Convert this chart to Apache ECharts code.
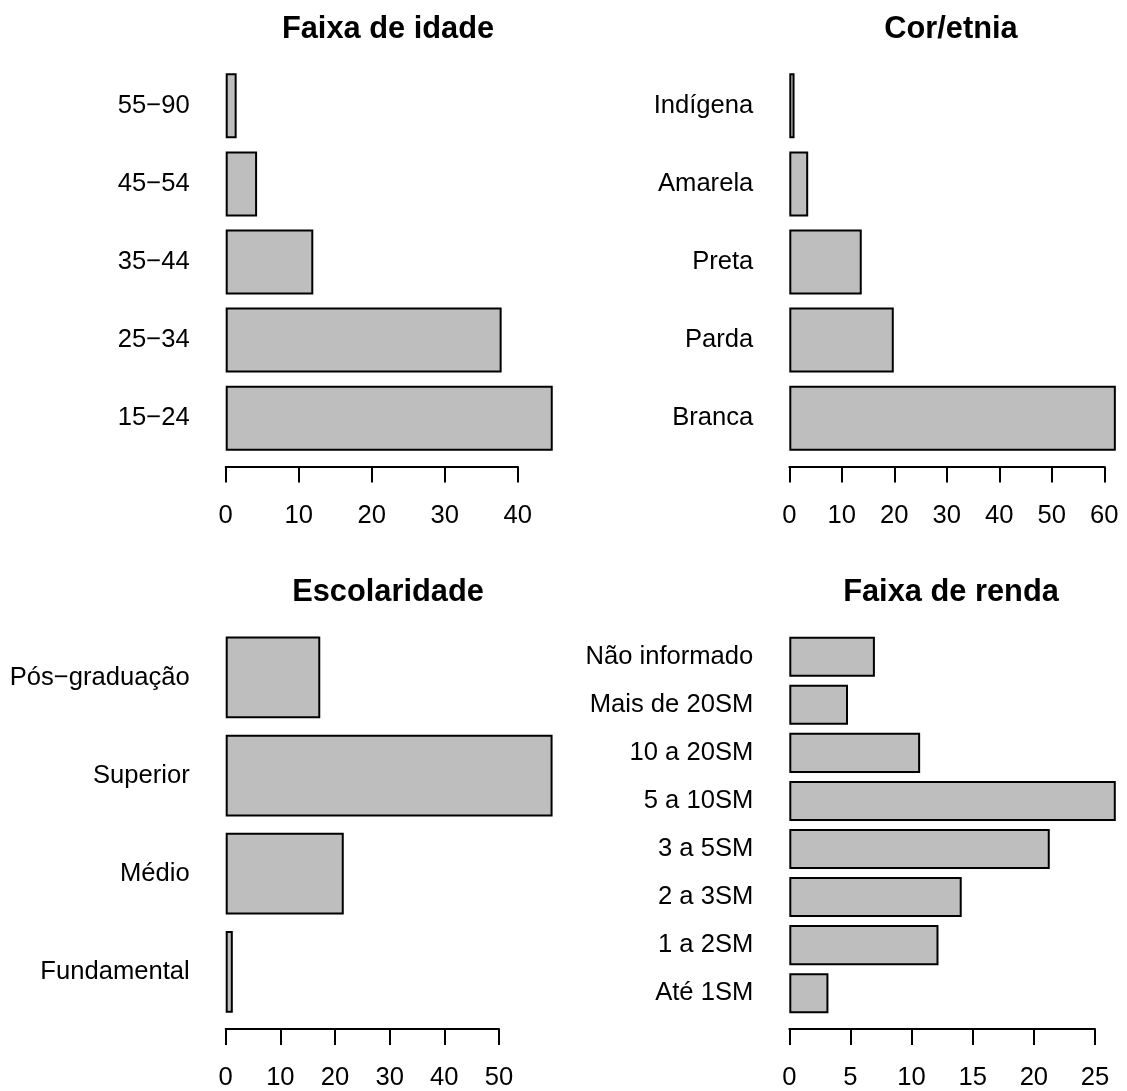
<!DOCTYPE html>
<html>
<head>
<meta charset="utf-8">
<script src="https://cdn.jsdelivr.net/npm/echarts@6/dist/echarts.min.js"></script>
<style>
html,body{margin:0;padding:0;background:#fff;}
#c{width:1127px;height:1091px;}
</style>
</head>
<body>
<div id="c"></div>
<script>
// ---- Data (percentages), categories listed bottom to top ----
const idadeTitle = 'Faixa de idade';
const idadeCats = ['15−24', '25−34', '35−44', '45−54', '55−90'];
const idadeVals = [44.8, 37.8, 12.0, 4.3, 1.5];
const idadeTickMax = 40, idadeTickStep = 10;

const corTitle = 'Cor/etnia';
const corCats = ['Branca', 'Parda', 'Preta', 'Amarela', 'Indígena'];
const corVals = [62.2, 19.9, 13.8, 3.6, 1.0];
const corTickMax = 60, corTickStep = 10;

const escTitle = 'Escolaridade';
const escCats = ['Fundamental', 'Médio', 'Superior', 'Pós−graduação'];
const escVals = [1.3, 21.6, 59.8, 17.3];
const escTickMax = 50, escTickStep = 10;

const rendaTitle = 'Faixa de renda';
const rendaCats = ['Até 1SM', '1 a 2SM', '2 a 3SM', '3 a 5SM', '5 a 10SM', '10 a 20SM', 'Mais de 20SM', 'Não informado'];
const rendaVals = [3.2, 12.2, 14.1, 21.3, 26.7, 10.7, 4.8, 7.0];
const rendaTickMax = 25, rendaTickStep = 5;

// ---- Layout ----
const FONT = "'Liberation Sans', Arial, Helvetica, sans-serif";
const LABEL_SIZE = 25.6;
const panels = [
  {title: idadeTitle, cats: idadeCats, vals: idadeVals, max: idadeTickMax, step: idadeTickStep,
   grid: {left: 225.7, top: 66.8, width: 292, height: 390.4}, offset: 9.3, tx: 388, ty: 29.5},
  {title: corTitle, cats: corCats, vals: corVals, max: corTickMax, step: corTickStep,
   grid: {left: 789.3, top: 66.8, width: 315, height: 390.4}, offset: 9.3, tx: 951, ty: 29.5},
  {title: escTitle, cats: escCats, vals: escVals, max: escTickMax, step: escTickStep,
   grid: {left: 225.7, top: 628.4, width: 273.3, height: 394}, offset: 8.1, tx: 388, ty: 593},
  {title: rendaTitle, cats: rendaCats, vals: rendaVals, max: rendaTickMax, step: rendaTickStep,
   grid: {left: 789.3, top: 632.7, width: 305.7, height: 386}, offset: 11.8, tx: 951, ty: 593}
];

const option = {
  backgroundColor: '#ffffff',
  animation: false,
  textStyle: {fontFamily: FONT},
  grid: panels.map(p => Object.assign({containLabel: false}, p.grid)),
  xAxis: panels.map((p, i) => ({
    type: 'value', gridIndex: i, min: 0, max: p.max, interval: p.step,
    position: 'bottom', offset: p.offset,
    splitLine: {show: false},
    axisLine: {show: true, lineStyle: {color: '#000', width: 2}},
    axisTick: {show: true, inside: false, length: 16, lineStyle: {color: '#000', width: 2}},
    axisLabel: {show: true, margin: 36, color: '#000', fontSize: LABEL_SIZE, fontFamily: FONT}
  })),
  yAxis: panels.map((p, i) => ({
    type: 'category', gridIndex: i, data: p.cats,
    axisLine: {show: false}, axisTick: {show: false}, splitLine: {show: false},
    axisLabel: {show: true, margin: 36, color: '#000', fontSize: LABEL_SIZE, fontFamily: FONT}
  })),
  series: panels.map((p, i) => ({
    type: 'bar', xAxisIndex: i, yAxisIndex: i, data: p.vals,
    barCategoryGap: '16.667%', clip: false,
    itemStyle: {color: '#bebebe', borderColor: '#000', borderWidth: 2}
  })),
  graphic: panels.map(p => ({
    type: 'text', x: p.tx, y: p.ty,
    style: {text: p.title, fill: '#000', font: 'bold 30.8px ' + FONT, textAlign: 'center', textVerticalAlign: 'middle'}
  }))
};

const chart = echarts.init(document.getElementById('c'), null, {renderer: 'canvas'});
chart.setOption(option);
</script>
</body>
</html>
